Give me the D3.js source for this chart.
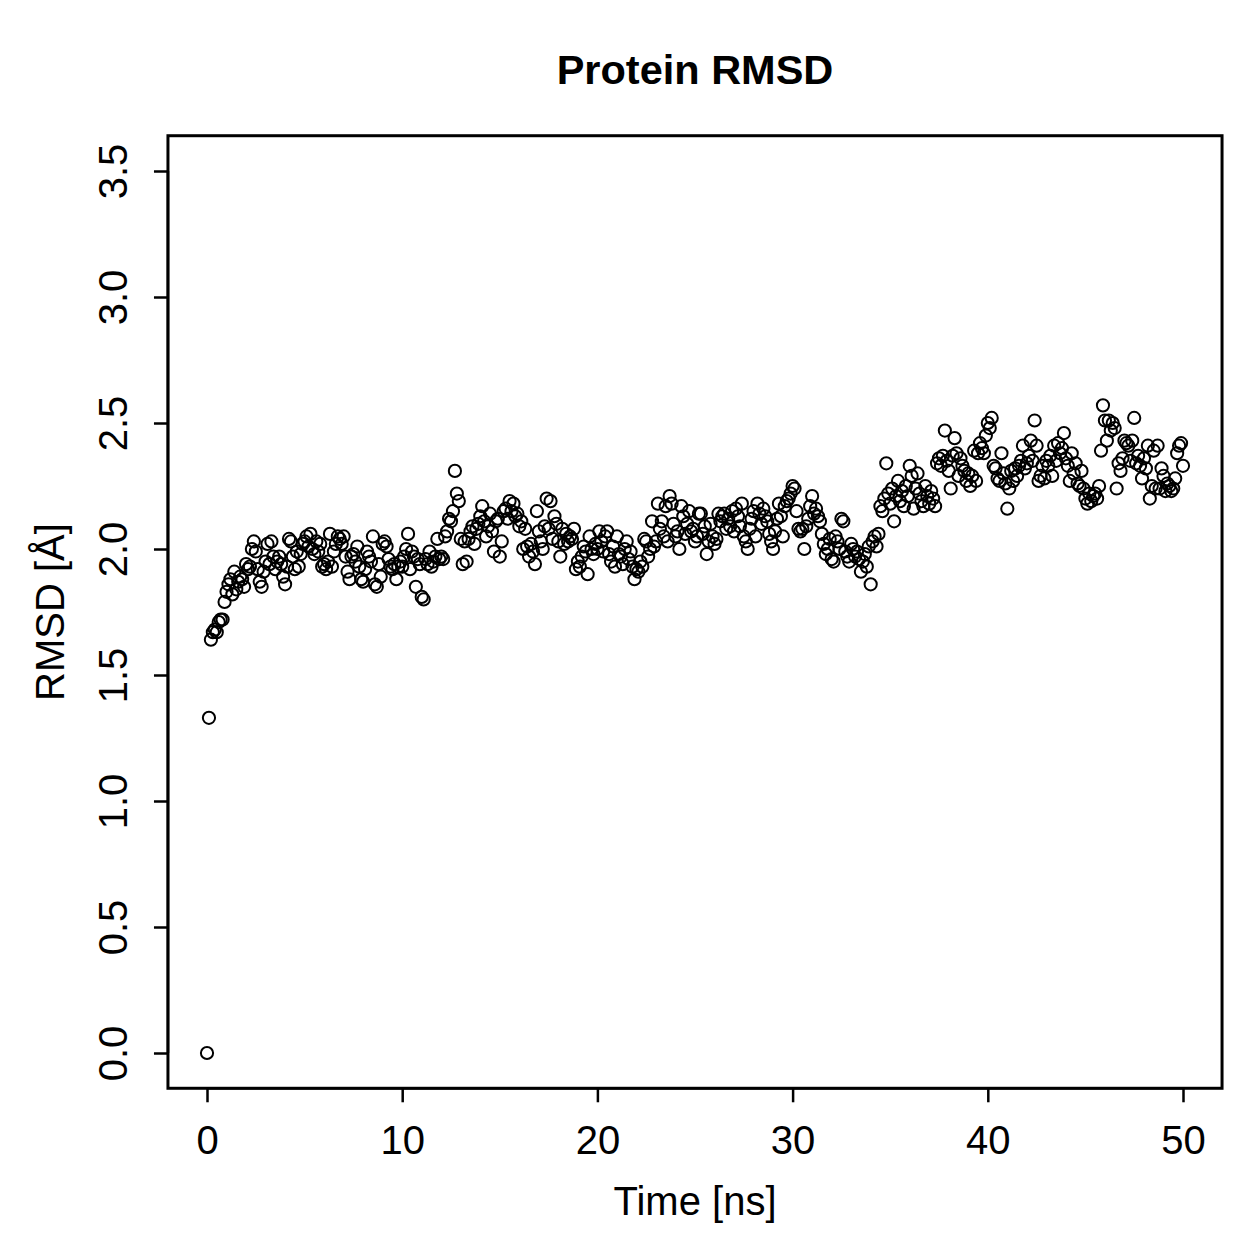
<!DOCTYPE html>
<meta charset="utf-8">
<head>
  <script src="https://d3js.org/d3.v7.min.js"></script>
  <style>
    body { margin: 0; background: #fff; }
    text { font-family: "Liberation Sans", Arial, Helvetica, sans-serif; fill: #000; }
  </style>
</head>
<body>
<div id="chart"></div>
<script>
  // frame spacing in ns (one point every 0.1 ns, 0 to 50)
  var timeStep = 0.1;

  // RMSD values, one row per nanosecond
  var rmsd = [
    0.00, 1.33, 1.64, 1.67, 1.68, 1.67, 1.71, 1.72, 1.72, 1.79,
    1.83, 1.86, 1.88, 1.82, 1.91, 1.84, 1.87, 1.89, 1.88, 1.85,
    1.94, 1.92, 1.93, 2.00, 2.03, 1.99, 1.92, 1.87, 1.85, 1.91,
    1.95, 2.02, 1.94, 2.03, 1.97, 1.92, 1.95, 1.97, 1.94, 1.89,
    1.86, 1.93, 2.04, 2.03, 1.97, 1.92, 1.99, 1.93, 1.98, 2.02,
    2.03, 2.05, 2.01, 2.06, 2.00, 1.98, 2.03, 1.99, 2.02, 1.93,
    1.94, 1.92, 1.95, 2.06, 1.93, 1.99, 2.02, 2.05, 2.04, 2.02,
    2.05, 1.97, 1.91, 1.88, 1.97, 1.98, 1.95, 2.01, 1.93, 1.88,
    1.87, 1.92, 1.99, 1.97, 1.95, 2.05, 1.86, 1.85, 1.94, 1.89,
    2.02, 2.03, 2.01, 1.96, 1.93, 1.92, 1.94, 1.88, 1.93, 1.95,
    1.93, 1.97, 2.00, 2.06, 1.92, 1.99, 1.97, 1.85, 1.96, 1.94,
    1.81, 1.80, 1.96, 1.94, 1.99, 1.93, 1.95, 1.97, 2.04, 1.96,
    1.97, 1.96, 2.05, 2.07, 2.12, 2.11, 2.15, 2.31, 2.22, 2.19,
    2.04, 1.94, 2.03, 1.95, 2.04, 2.07, 2.09, 2.02, 2.08, 2.10,
    2.13, 2.17, 2.11, 2.05, 2.09, 2.14, 2.07, 1.99, 2.11, 2.12,
    1.97, 2.03, 2.15, 2.16, 2.12, 2.19, 2.15, 2.18, 2.13, 2.14,
    2.09, 2.11, 2.00, 2.08, 2.01, 1.97, 2.02, 1.99, 1.94, 2.15,
    2.07, 2.03, 2.00, 2.09, 2.20, 2.08, 2.19, 2.04, 2.13, 2.10,
    2.03, 1.97, 2.08, 2.02, 2.06, 2.03, 2.05, 2.04, 2.08, 1.92,
    1.95, 1.93, 1.97, 2.01, 1.99, 1.90, 2.05, 2.00, 1.98, 2.02,
    2.00, 2.07, 2.03, 1.99, 2.05, 2.07, 1.98, 1.95, 2.01, 1.93,
    2.05, 1.98, 1.97, 1.94, 2.00, 2.03, 1.96, 1.99, 1.93, 1.88,
    1.92, 1.91, 1.95, 1.93, 2.04, 2.03, 1.97, 2.00, 2.11, 2.01,
    2.03, 2.18, 2.08, 2.11, 2.05, 2.17, 2.03, 2.21, 2.18, 2.10,
    2.05, 2.07, 2.00, 2.17, 2.13, 2.06, 2.10, 2.15, 2.07, 2.08,
    2.03, 2.05, 2.14, 2.14, 2.06, 2.09, 1.98, 2.03, 2.10, 2.05,
    2.02, 2.04, 2.14, 2.11, 2.13, 2.14, 2.08, 2.12, 2.09, 2.15,
    2.07, 2.16, 2.13, 2.09, 2.18, 2.05, 2.03, 2.00, 2.08, 2.12,
    2.15, 2.05, 2.18, 2.14, 2.10, 2.16, 2.13, 2.11, 2.06, 2.03,
    2.00, 2.07, 2.12, 2.18, 2.13, 2.05, 2.17, 2.19, 2.20, 2.22,
    2.25, 2.24, 2.15, 2.08, 2.07, 2.08, 2.00, 2.09, 2.12, 2.17,
    2.21, 2.14, 2.16, 2.13, 2.11, 2.06, 2.02, 1.98, 2.00, 2.04,
    1.96, 1.95, 2.05, 2.03, 2.00, 2.12, 2.11, 1.99, 1.97, 1.95,
    2.02, 2.00, 1.97, 1.99, 1.96, 1.91, 1.95, 1.98, 1.93, 2.01,
    1.86, 2.03, 2.05, 2.01, 2.06, 2.17, 2.15, 2.20, 2.34, 2.22,
    2.18, 2.24, 2.11, 2.21, 2.27, 2.19, 2.23, 2.17, 2.25, 2.21,
    2.33, 2.29, 2.16, 2.24, 2.30, 2.22, 2.19, 2.17, 2.25, 2.21,
    2.18, 2.23, 2.20, 2.17, 2.34, 2.36, 2.33, 2.37, 2.47, 2.35,
    2.31, 2.24, 2.37, 2.44, 2.38, 2.29, 2.36, 2.33, 2.31, 2.27,
    2.30, 2.25, 2.29, 2.39, 2.27, 2.38, 2.42, 2.40, 2.38, 2.45,
    2.50, 2.48, 2.52, 2.33, 2.32, 2.28, 2.27, 2.38, 2.30, 2.26,
    2.16, 2.24, 2.31, 2.27, 2.32, 2.29, 2.33, 2.35, 2.41, 2.32,
    2.34, 2.37, 2.43, 2.35, 2.51, 2.41, 2.27, 2.29, 2.33, 2.28,
    2.35, 2.33, 2.37, 2.29, 2.41, 2.35, 2.42, 2.38, 2.40, 2.46,
    2.36, 2.33, 2.27, 2.38, 2.30, 2.34, 2.26, 2.25, 2.31, 2.24,
    2.20, 2.18, 2.22, 2.19, 2.21, 2.22, 2.20, 2.25, 2.39, 2.57,
    2.51, 2.43, 2.51, 2.47, 2.50, 2.48, 2.24, 2.34, 2.31, 2.36,
    2.43, 2.42, 2.41, 2.35, 2.43, 2.52, 2.34, 2.37, 2.33, 2.28,
    2.36, 2.32, 2.41, 2.20, 2.25, 2.39, 2.24, 2.41, 2.24, 2.32,
    2.29, 2.23, 2.26, 2.25, 2.23, 2.24, 2.28, 2.38, 2.41, 2.42,
    2.33
  ];

  var xTicks = [0, 10, 20, 30, 40, 50];
  var yTicks = [0, 0.5, 1, 1.5, 2, 2.5, 3, 3.5];

  var W = 1259, H = 1259;
  var fontSize = 40;

  var svg = d3.select("#chart")
    .append("svg")
    .attr("width", W)
    .attr("height", H);

  // scales (R style: 4% padding around the data range)
  var x = d3.scaleLinear().domain([0, 50]).range([207, 1183]);
  var y = d3.scaleLinear().domain([0, 3.5]).range([1053, 171]);

  var x0 = x(-2), x1 = x(52), y0 = y(-0.14), y1 = y(3.64);

  // plot box
  svg.append("rect")
    .attr("x", x0).attr("y", y1)
    .attr("width", x1 - x0).attr("height", y0 - y1)
    .attr("fill", "none")
    .attr("stroke", "#000")
    .attr("stroke-width", 3);

  // x axis
  var xAxis = svg.append("g")
    .attr("transform", "translate(0," + y0 + ")")
    .call(d3.axisBottom(x).tickValues(xTicks).tickSize(14).tickFormat(d3.format("d")));
  xAxis.select(".domain").attr("d", "M" + x(0) + ",0H" + x(50)).attr("stroke-width", 2.5);
  xAxis.selectAll(".tick line").attr("stroke-width", 2.5);
  xAxis.selectAll(".tick text")
    .attr("font-size", fontSize)
    .style("font-family", "Liberation Sans, Arial, sans-serif")
    .attr("y", 66).attr("dy", null);

  // y axis
  var yAxis = svg.append("g")
    .attr("transform", "translate(" + x0 + ",0)")
    .call(d3.axisLeft(y).tickValues(yTicks).tickSize(14).tickFormat(d3.format(".1f")));
  yAxis.select(".domain").attr("d", "M0," + y(0) + "V" + y(3.5)).attr("stroke-width", 2.5);
  yAxis.selectAll(".tick line").attr("stroke-width", 2.5);
  yAxis.selectAll(".tick text")
    .attr("font-size", fontSize)
    .style("font-family", "Liberation Sans, Arial, sans-serif")
    .attr("x", null).attr("dy", null)
    .attr("text-anchor", "middle")
    .attr("transform", "translate(-41,0) rotate(-90)");

  // points
  svg.append("g")
    .selectAll("circle")
    .data(rmsd)
    .enter()
    .append("circle")
    .attr("cx", function (d, i) { return x(i * timeStep); })
    .attr("cy", function (d) { return y(d); })
    .attr("r", 6.1)
    .attr("fill", "none")
    .attr("stroke", "#000")
    .attr("stroke-width", 2);

  // title and axis labels
  svg.append("text")
    .attr("x", (x0 + x1) / 2).attr("y", 84)
    .attr("text-anchor", "middle")
    .attr("font-size", 41.5).attr("font-weight", "bold")
    .text("Protein RMSD");

  svg.append("text")
    .attr("x", (x0 + x1) / 2).attr("y", 1215)
    .attr("text-anchor", "middle")
    .attr("font-size", fontSize)
    .text("Time [ns]");

  svg.append("text")
    .attr("transform", "translate(64," + (y0 + y1) / 2 + ") rotate(-90)")
    .attr("text-anchor", "middle")
    .attr("font-size", fontSize)
    .text("RMSD [Å]");
</script>
</body>
